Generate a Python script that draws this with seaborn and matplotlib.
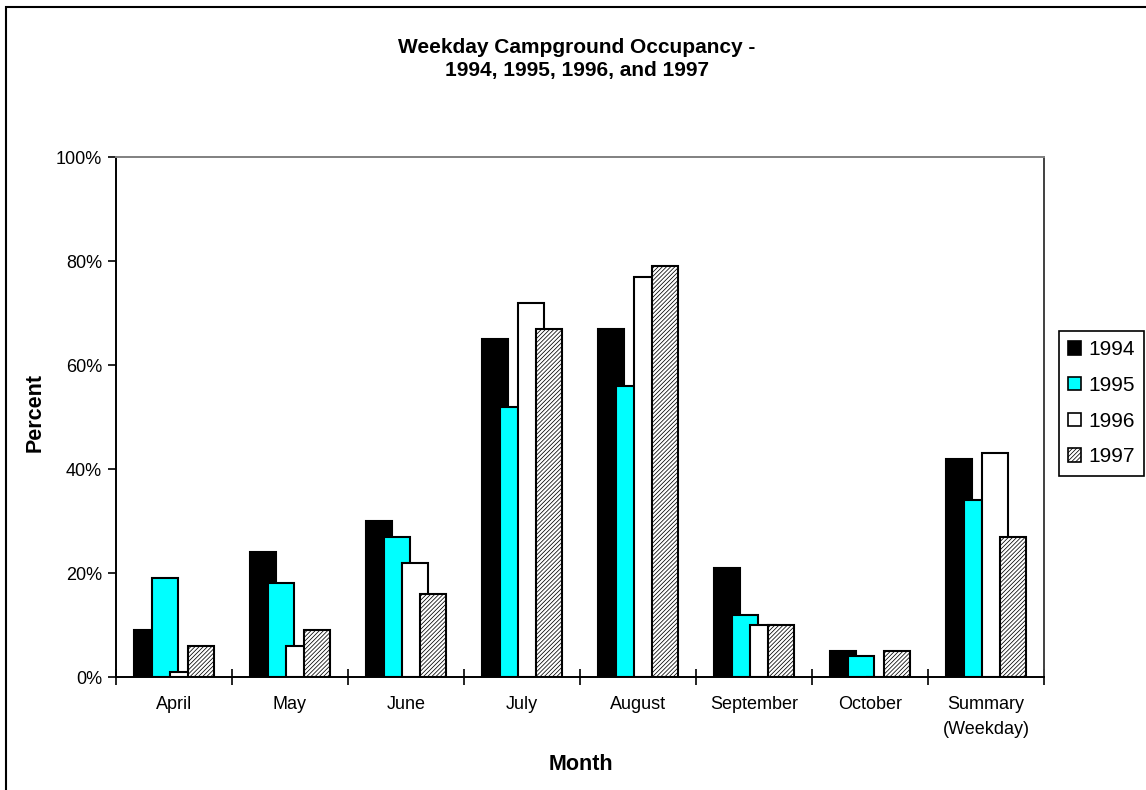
import matplotlib
matplotlib.use("Agg")
import matplotlib.pyplot as plt
from matplotlib.patches import Patch, Rectangle
from matplotlib.ticker import FixedLocator
import seaborn as sns
import pandas as pd

# Weekday occupancy (percent) by month and year
months = ["April", "May", "June", "July", "August", "September", "October",
          "Summary\n(Weekday)"]
years = ["1994", "1995", "1996", "1997"]
occ_1994 = [9, 24, 30, 65, 67, 21, 5, 42]
occ_1995 = [19, 18, 27, 52, 56, 12, 4, 34]
occ_1996 = [1, 6, 22, 72, 77, 10, 0, 43]
occ_1997 = [6, 9, 16, 67, 79, 10, 5, 27]
y_ticks = [0, 20, 40, 60, 80, 100]

series = [occ_1994, occ_1995, occ_1996, occ_1997]
df = pd.DataFrame(
    [(m, yr, v) for yr, vals in zip(years, series) for m, v in zip(months, vals)],
    columns=["Month", "Year", "Percent"],
)

sns.set_theme(style="white")
plt.rcParams["font.family"] = ["Liberation Sans", "DejaVu Sans"]
plt.rcParams["text.color"] = "black"
plt.rcParams["axes.labelcolor"] = "black"
plt.rcParams["xtick.color"] = "black"
plt.rcParams["ytick.color"] = "black"
plt.rcParams["hatch.linewidth"] = 0.55

fig = plt.figure(figsize=(11.46, 7.90), dpi=100)
ax = fig.add_axes([116 / 1146, 1 - 677 / 790, 928 / 1146, 520 / 790])

fills = ["#000000", "#00FFFF", "#FFFFFF", "#FFFFFF"]
hatches = [None, None, None, "////////"]

sns.barplot(data=df, x="Month", y="Percent", hue="Year", order=months,
            hue_order=years, palette=fills, saturation=1, width=0.62,
            edgecolor="black", linewidth=1.5, legend=False, ax=ax)

# Excel-style overlapping clustered bars
n_cat = len(months)
for i, p in enumerate(ax.patches):
    k = i // n_cat
    p.set_x(p.get_x() - 0.035)
    p.set_width(0.224)
    p.set_facecolor(fills[k])
    p.set_edgecolor("black")
    p.set_linewidth(1.5)
    if hatches[k]:
        p.set_hatch(hatches[k])

ax.set_xlim(-0.5, n_cat - 0.5)
ax.set_ylim(0, 100)
ax.set_yticks(y_ticks)
ax.set_yticklabels([f"{v}%" for v in y_ticks])
ax.set_xticks(range(n_cat))
ax.set_xticklabels(months, linespacing=1.55)
ax.xaxis.set_minor_locator(FixedLocator([b - 0.5 for b in range(n_cat + 1)]))
ax.tick_params(axis="x", which="major", length=0, pad=14, labelsize=13)
ax.tick_params(axis="x", which="minor", bottom=True, direction="inout",
               length=12, width=1.2)
ax.tick_params(axis="y", which="major", left=True, direction="out", length=6,
               width=1.2, pad=4, labelsize=13)
ax.set_xlabel("")
ax.set_ylabel("")

for side in ["left", "bottom"]:
    ax.spines[side].set_color("black")
    ax.spines[side].set_linewidth(1.4)
ax.spines["top"].set_color("#808080")
ax.spines["right"].set_color("#404040")
for side in ["top", "right"]:
    ax.spines[side].set_linewidth(1.4)
    ax.spines[side].set_visible(True)

handles = [Patch(facecolor=fills[k], edgecolor="black", linewidth=1.2,
                 hatch=hatches[k]) for k in range(len(years))]
leg = ax.legend(handles, years, loc="upper left",
                bbox_to_anchor=(1059 / 1146, 1 - 331 / 790),
                bbox_transform=fig.transFigure, fontsize=15, frameon=True,
                fancybox=False, edgecolor="black", framealpha=1,
                handlelength=0.6, handleheight=0.6, handletextpad=0.35,
                labelspacing=0.8, borderpad=0.45, borderaxespad=0)
leg.get_frame().set_linewidth(1.2)

fig.text(577 / 1146, 1 - 59 / 790,
         "Weekday Campground Occupancy -\n1994, 1995, 1996, and 1997",
         ha="center", va="center", multialignment="center",
         fontsize=15, fontweight="bold", linespacing=1.3)
fig.text(35 / 1146, 1 - 412 / 790, "Percent", rotation=90, ha="center",
         va="center", fontsize=15.5, fontweight="bold")
fig.text(581 / 1146, 1 - 765 / 790, "Month", ha="center", va="center",
         fontsize=15.5, fontweight="bold")

# chart area border
fig.patches.append(Rectangle((6 / 1146, -0.05), 1.2, 1.05 - 7 / 790,
                             transform=fig.transFigure, fill=False,
                             edgecolor="black", linewidth=1.5))

fig.savefig("out.png", dpi=100, facecolor="white")
